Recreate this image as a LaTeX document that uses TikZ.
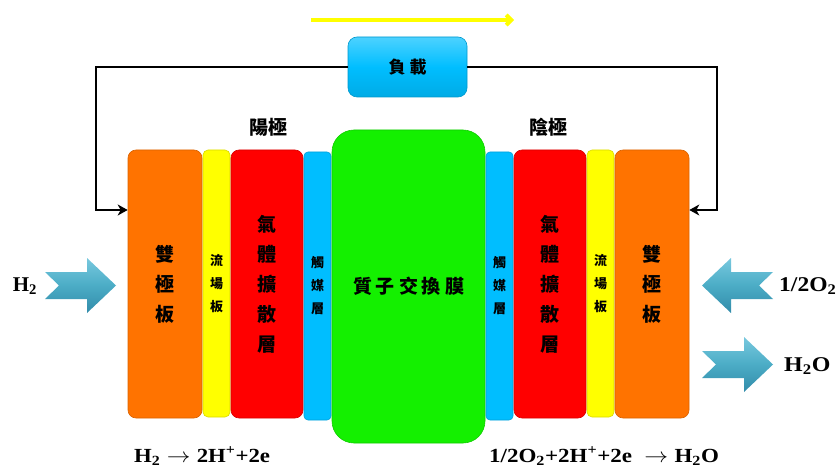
\documentclass[tikz,border=0pt]{standalone}
\usepackage{fontspec}
\setmainfont{Liberation Serif}
\newfontfamily\cjk{Noto Sans CJK TC}
\usetikzlibrary{arrows.meta,calc}
\definecolor{plateorange}{RGB}{255,115,0}
\definecolor{plateyellow}{RGB}{255,255,0}
\definecolor{platered}{RGB}{255,0,0}
\definecolor{platecyan}{RGB}{0,190,255}
\definecolor{plategreen}{RGB}{20,240,0}
\definecolor{arrowblue}{RGB}{75,172,198}
\definecolor{arrowlight}{RGB}{120,200,222}
\definecolor{arrowdark}{RGB}{50,140,170}
\begin{document}
\begin{tikzpicture}[x=1pt,y=-1pt,
  plate/.style={rounded corners=8pt, inner sep=0pt, align=center, draw=#1!85!black, line width=0.6pt, fill=#1},
  bigcjk/.style={font=\cjk\bfseries\fontsize{19}{30}\selectfont},
  smallcjk/.style={font=\cjk\bfseries\fontsize{13}{23}\selectfont},
  wire/.style={line width=2.8pt, -{Stealth[length=10pt,width=11pt,inset=3pt]}},
  eq/.style={font=\bfseries\fontsize{20}{22}\selectfont, inner sep=0pt},
  gas/.style={font=\bfseries\fontsize{21}{24}\selectfont, inner sep=0pt},
  pole/.style={font=\cjk\bfseries\fontsize{19}{22}\selectfont, inner sep=0pt}
]
\useasboundingbox (0,0) rectangle (837,470);

% current direction arrow
\coordinate (ya) at (311,20);
\coordinate (yb) at (514,20);
\draw[plateyellow, line width=4pt, -{Straight Barb[length=5pt,width=10pt]}] (ya) -- (yb);

% load
\node[rounded corners=9pt, minimum width=119pt, minimum height=60pt, inner sep=0pt,
      top color=platecyan!70!white, bottom color=platecyan!90!black, middle color=platecyan,
      draw=platecyan!80!black, line width=0.6pt,
      font=\cjk\bfseries\fontsize{17}{20}\selectfont] (load) at (407.5,67) {負\hspace{4pt}載};

% plates, left side
\node[plate=plateorange, minimum width=74pt, minimum height=268pt, bigcjk] (lp) at (165,284) {雙\\極\\板};
\node[plate=plateyellow, rounded corners=5pt, minimum width=27pt, minimum height=267pt, smallcjk] (ly) at (216.5,283.5) {流\\場\\板};
\node[plate=platered, minimum width=72pt, minimum height=268pt, bigcjk] (lr) at (267,284) {氣\\體\\擴\\散\\層};
\node[plate=platecyan, rounded corners=4pt, minimum width=27pt, minimum height=268pt, smallcjk] (lb) at (317.5,286) {觸\\媒\\層};
% membrane
\node[plate=plategreen, rounded corners=22pt, minimum width=153pt, minimum height=313pt, bigcjk] (pem) at (408.5,286.5) {質\hspace{4pt}子\hspace{4pt}交\hspace{4pt}換\hspace{4pt}膜};
% plates, right side
\node[plate=platecyan, rounded corners=4pt, minimum width=27pt, minimum height=268pt, smallcjk] (rb) at (499.5,286) {觸\\媒\\層};
\node[plate=platered, minimum width=72pt, minimum height=268pt, bigcjk] (rr) at (550,284) {氣\\體\\擴\\散\\層};
\node[plate=plateyellow, rounded corners=5pt, minimum width=27pt, minimum height=267pt, smallcjk] (ry) at (600.5,283.5) {流\\場\\板};
\node[plate=plateorange, minimum width=74pt, minimum height=268pt, bigcjk] (rp) at (652,284) {雙\\極\\板};

% pole labels
\node[pole] (anode) at (268,127) {陽極};
\node[pole] (cathode) at (548,127) {陰極};

% external circuit
\coordinate (wl) at (96,210);
\coordinate (wr) at (717,210);
\draw[wire] (load.west) -| (wl) -- (wl -| lp.west);
\draw[wire] (load.east) -| (wr) -- (wr -| rp.east);

% gas arrows
\shade[top color=arrowlight, bottom color=arrowdark, middle color=arrowblue]
  (45,272) -- (87,272) -- (87,258) -- (116,285.5) -- (87,313) -- (87,299) -- (45,299) -- (59,285.5) -- cycle;
\shade[top color=arrowlight, bottom color=arrowdark, middle color=arrowblue]
  (773,272) -- (731,272) -- (731,258) -- (702,285.5) -- (731,313) -- (731,299) -- (773,299) -- (759,285.5) -- cycle;
\shade[top color=arrowlight, bottom color=arrowdark, middle color=arrowblue]
  (702,351) -- (744,351) -- (744,337) -- (773,364.5) -- (744,392) -- (744,378) -- (702,378) -- (716,364.5) -- cycle;

\node[gas] (h2in) at (25,286) {H\textsubscript{2}};
\node[gas, anchor=west] (o2in) at (779,286) {\scalebox{1.12}[1]{1/2O\textsubscript{2}}};
\node[gas, anchor=west] (h2oout) at (784,366) {\scalebox{1.14}[1]{H\textsubscript{2}O}};

% reactions
\node[eq, anchor=west] (anodeeq) at (134,456) {\scalebox{1.14}[1]{H\textsubscript{2}\;$\rightarrow$\;2H\textsuperscript{+}+2e}};
\node[eq, anchor=west] (cathodeeq) at (489,456) {\scalebox{1.15}[1]{1/2O\textsubscript{2}+2H\textsuperscript{+}+2e \;$\rightarrow$\;H\textsubscript{2}O}};
\end{tikzpicture}
\end{document}
